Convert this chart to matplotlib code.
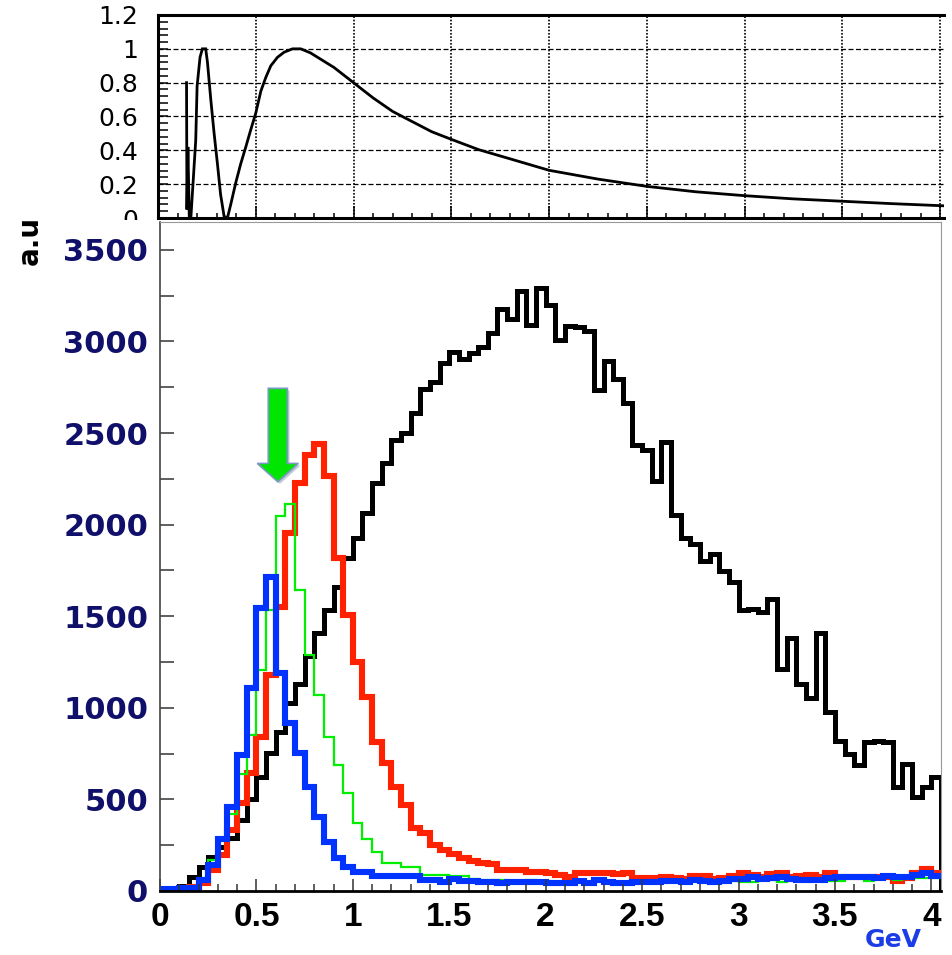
import numpy as np
import matplotlib
matplotlib.use('Agg')
from matplotlib import pyplot as plt
from matplotlib.ticker import MultipleLocator, FormatStrFormatter
from matplotlib.patches import Rectangle
import matplotlib.patheffects as pe

# ---- data ----
# histogram bins: 0.05 GeV wide, 0 .. 4.05 GeV
bin_edges = np.arange(82) * 0.05

black = [10, 12, 27, 78, 130, 185, 240, 290, 390, 500,
         624, 752, 870, 1025, 1128, 1285, 1407, 1534, 1661, 1816,
         1925, 2062, 2225, 2334, 2462, 2500, 2609, 2740, 2778, 2882,
         2942, 2904, 2937, 2969, 3046, 3177, 3122, 3275, 3090, 3291,
         3199, 3008, 3084, 3079, 3057, 2735, 2893, 2795, 2664, 2434,
         2407, 2238, 2451, 2052, 1927, 1894, 1801, 1840, 1747, 1687,
         1534, 1539, 1523, 1594, 1212, 1381, 1130, 1053, 1408, 977,
         819, 748, 688, 813, 819, 813, 568, 693, 513, 568,
         622]

red = [5, 5, 10, 20, 44, 115, 196, 333, 480, 644,
       842, 1179, 1552, 1952, 2225, 2380, 2440, 2265, 1816, 1507,
       1252, 1061, 815, 697, 569, 469, 342, 315, 251, 224,
       202, 178, 164, 151, 148, 115, 115, 115, 105, 105,
       100, 87, 78, 96, 100, 100, 96, 93, 100, 73,
       70, 70, 76, 70, 65, 82, 82, 64, 73, 84,
       96, 90, 76, 93, 100, 76, 82, 87, 76, 100,
       76, 76, 76, 76, 76, 76, 56, 70, 96, 120,
       96]

green = [5, 5, 10, 30, 70, 170, 280, 420, 640, 850,
         1206, 1534, 2049, 2111, 1643, 1288, 1070, 842, 688, 537,
         373, 282, 215, 151, 151, 133, 133, 87, 87, 85,
         82, 80, 65, 62, 60, 62, 55, 52, 58, 55,
         48, 45, 45, 52, 50, 55, 50, 48, 45, 45,
         45, 45, 52, 55, 50, 55, 50, 48, 50, 55,
         51, 50, 58, 62, 50, 60, 55, 55, 55, 55,
         56, 70, 70, 56, 65, 75, 62, 70, 70, 72,
         70]

blue = [11, 11, 16, 16, 60, 142, 282, 460, 742, 1106,
        1543, 1712, 1190, 915, 752, 569, 406, 269, 178, 133,
        105, 105, 82, 82, 82, 82, 82, 60, 60, 51,
        64, 55, 55, 51, 51, 45, 51, 51, 47, 47,
        42, 42, 42, 55, 45, 60, 51, 45, 42, 47,
        47, 47, 56, 56, 51, 60, 56, 51, 56, 64,
        64, 76, 64, 70, 76, 65, 60, 60, 60, 73,
        76, 76, 76, 78, 70, 82, 76, 76, 87, 100,
        84]

# upper panel curve (energy, relative value)
curve_E = [0.146, 0.148, 0.153, 0.160, 0.168, 0.193, 0.200, 0.215, 0.227, 0.244,
           0.253, 0.270, 0.287, 0.304, 0.320, 0.338, 0.355, 0.372, 0.398, 0.423,
           0.449, 0.474, 0.500, 0.526, 0.551, 0.577, 0.611, 0.645, 0.688, 0.730,
           0.780, 0.900, 1.000, 1.100, 1.200, 1.300, 1.400, 1.500, 1.640, 1.800,
           2.000, 2.250, 2.500, 2.750, 3.000, 3.250, 3.500, 3.750, 4.000, 4.020]
curve_P = [0.80, 0.05, 0.42, 0.00, 0.00, 0.46, 0.78, 0.95, 1.00, 1.00,
           0.92, 0.70, 0.50, 0.32, 0.14, 0.01, 0.00, 0.08, 0.21, 0.32,
           0.42, 0.52, 0.62, 0.75, 0.83, 0.90, 0.95, 0.98, 1.00, 1.00,
           0.976, 0.89, 0.80, 0.71, 0.63, 0.57, 0.51, 0.465, 0.404, 0.35,
           0.282, 0.23, 0.187, 0.155, 0.132, 0.113, 0.099, 0.085, 0.073, 0.072]

# green marker arrow (x in GeV, y in counts)
arrow_x = 0.611
arrow_top = 2744
arrow_tip = 2234

W, H = 953, 955
fig = plt.figure(figsize=(W/100, H/100), dpi=100)

# ---------------- upper panel ----------------
ax1 = fig.add_axes([158/W, 1-218/H, (944-158)/W, (218-15)/H], zorder=1)
ax1.plot(curve_E, curve_P, color='black', lw=2.0, solid_joinstyle='miter')
ax1.set_xlim(0, 4.02)
ax1.set_ylim(0, 1.2)
ax1.xaxis.set_major_locator(MultipleLocator(0.5))
ax1.xaxis.set_minor_locator(MultipleLocator(0.1))
ax1.yaxis.set_major_locator(MultipleLocator(0.2))
ax1.yaxis.set_minor_locator(MultipleLocator(0.04))
ax1.yaxis.set_major_formatter(FormatStrFormatter('%g'))
ax1.set_xticklabels([])
ax1.tick_params(which='both', direction='in', width=1.1, color='black')
ax1.tick_params(axis='x', which='major', length=8.5)
ax1.tick_params(axis='x', which='minor', length=3.6)
ax1.tick_params(axis='y', which='both', length=7, pad=14,
                labelsize=18, labelfontfamily='DejaVu Sans')
ax1.yaxis.grid(True, which='major', color='black', ls=(0, (4, 2)), lw=0.9)
ax1.xaxis.grid(True, which='major', color='black', ls=(0, (1, 1)), lw=1.2)
for s in ['top', 'left', 'bottom']:
    ax1.spines[s].set_linewidth(2.2)
ax1.spines['right'].set_visible(False)

# white sheet under the lower panel (cuts the "0" of the upper panel)
fig.add_artist(Rectangle((0, 0), 1, 1-220/H, transform=fig.transFigure,
                         facecolor='white', edgecolor='none', zorder=1.5))

# ---------------- lower panel ----------------
ax2 = fig.add_axes([160/W, 1-891/H, (941-160)/W, (891-222)/H], zorder=2)
ax2.stairs(black, bin_edges, baseline=0, color='black', lw=3.6)
ax2.stairs(red, bin_edges, baseline=None, color='#ff2200', lw=4.4)
ax2.stairs(green, bin_edges, baseline=None, color='#00ee00', lw=1.6)
ax2.stairs(blue, bin_edges, baseline=None, color='#0033ff', lw=4.4)

ax2.arrow(arrow_x, arrow_top, 0, arrow_tip-arrow_top, width=0.099,
          head_width=0.213, head_length=100, length_includes_head=True,
          facecolor='#00e600', edgecolor='#7b98c4', lw=1.2, zorder=5,
          path_effects=[pe.withSimplePatchShadow(offset=(1.5, -1.5),
                                                 shadow_rgbFace='#9aa8b8', alpha=0.6)])

ax2.set_xlim(0, 4.05)
ax2.set_ylim(0, 3652)
ax2.xaxis.set_major_locator(MultipleLocator(0.5))
ax2.xaxis.set_minor_locator(MultipleLocator(0.1))
ax2.xaxis.set_major_formatter(FormatStrFormatter('%g'))
ax2.yaxis.set_major_locator(MultipleLocator(500))
ax2.yaxis.set_minor_locator(MultipleLocator(250))
ax2.tick_params(which='both', direction='in', color='#333333', width=1.1,
                top=False, right=False)
ax2.tick_params(axis='x', which='major', length=8.6, pad=8)
ax2.tick_params(axis='x', which='minor', length=5)
ax2.tick_params(axis='y', which='both', length=10, pad=8.5)
for lab in ax2.get_xticklabels():
    lab.set_fontfamily('Liberation Sans')
    lab.set_fontweight('bold')
    lab.set_fontsize(24)
for lab in ax2.get_yticklabels():
    lab.set_fontfamily('DejaVu Sans')
    lab.set_fontweight('bold')
    lab.set_fontsize(22)
    lab.set_color('#10106a')
ax2.spines['left'].set_color('#444444')
ax2.spines['left'].set_linewidth(1.2)
ax2.spines['bottom'].set_color('black')
ax2.spines['bottom'].set_linewidth(2)
for s in ['top', 'right']:
    ax2.spines[s].set_color('#999999')
    ax2.spines[s].set_linewidth(0.8)

fig.text(30/W, 1-240/H, 'a.u', rotation=90, ha='center', va='center',
         fontsize=20, fontweight='bold', family='DejaVu Sans', zorder=3)
fig.text(893/W, 1-940/H, 'GeV', ha='center', va='center', color='#1c3ce6',
         fontsize=18, fontweight='bold', family='DejaVu Sans', zorder=3)

fig.savefig('out.png', dpi=100)
